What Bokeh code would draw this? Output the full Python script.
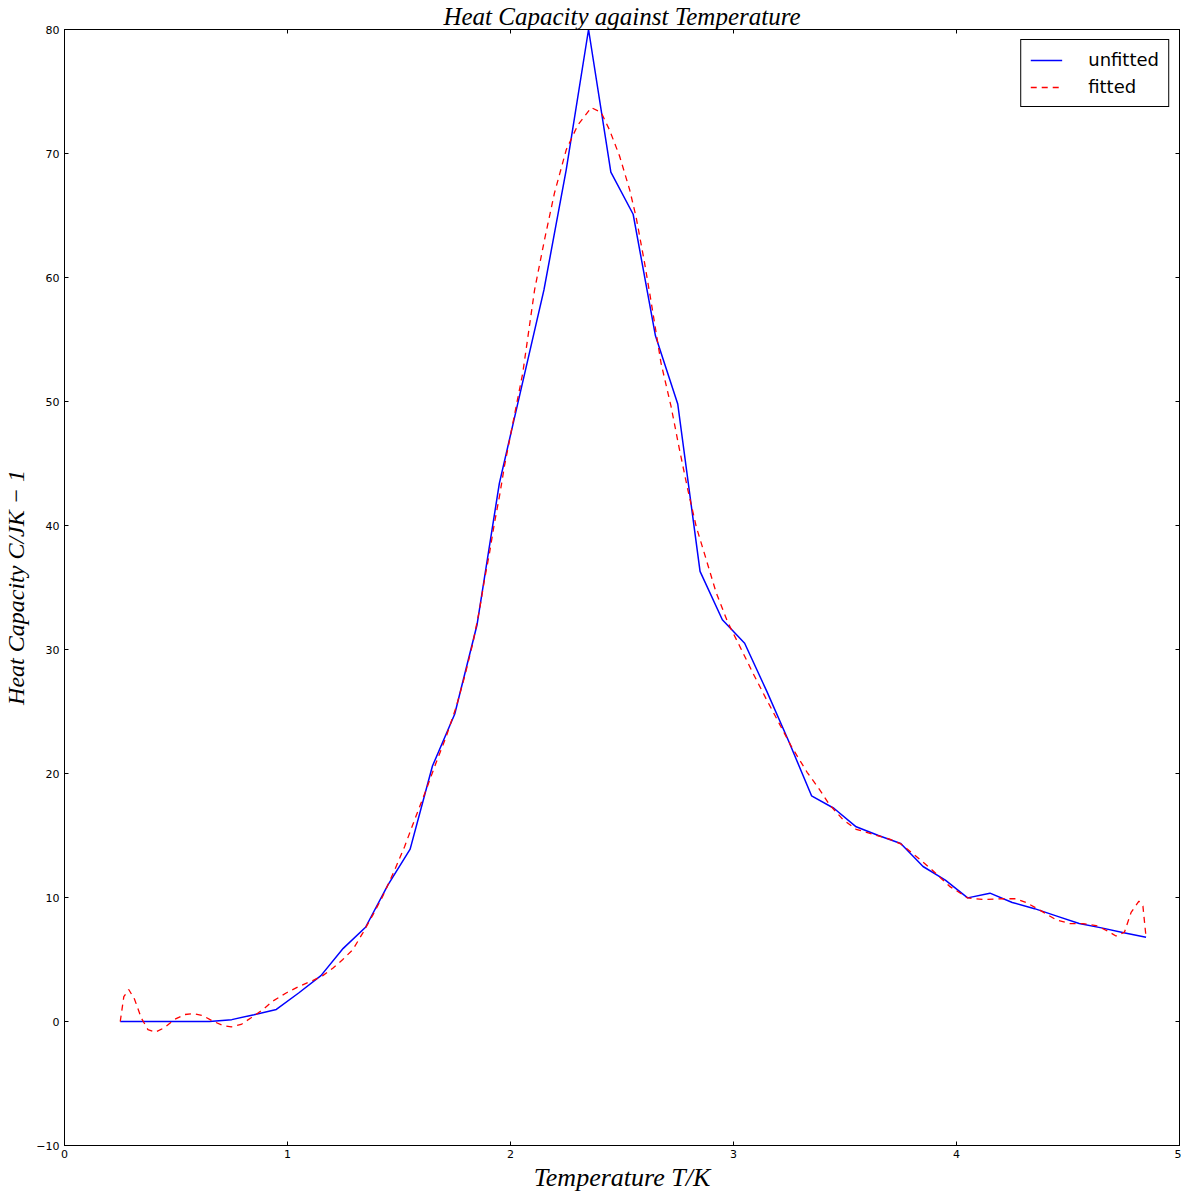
from bokeh.plotting import figure
from bokeh.models import FixedTicker, LinearAxis, Legend, LegendItem
from bokeh.embed import file_html
from bokeh.resources import INLINE

# Unfitted data
temps = [0.25, 0.35, 0.45, 0.55, 0.65, 0.75, 0.85, 0.95, 1.05, 1.15,
         1.25, 1.35, 1.45, 1.55, 1.65, 1.75, 1.85, 1.95, 2.05, 2.15,
         2.25, 2.35, 2.45, 2.55, 2.65, 2.75, 2.85, 2.95, 3.05, 3.15,
         3.25, 3.35, 3.45, 3.55, 3.65, 3.75, 3.85, 3.95, 4.05, 4.15,
         4.25, 4.35, 4.45, 4.55, 4.65, 4.75, 4.85]
heat_cap = [0.0, 0.0, 0.0, 0.0, 0.0, 0.15, 0.55, 0.97, 2.3, 3.7,
            5.9, 7.6, 11.0, 13.9, 20.6, 24.8, 32.0, 43.4, 51.2, 59.0,
            68.7, 80.0, 68.5, 65.1, 55.3, 49.8, 36.3, 32.4, 30.5, 26.6,
            22.5, 18.2, 17.2, 15.7, 15.0, 14.35, 12.5, 11.4, 9.97, 10.35,
            9.6, 9.1, 8.5, 7.9, 7.55, 7.15, 6.8]

# Fitted curve
fit_t = [0.25, 0.266, 0.288, 0.314, 0.344, 0.374, 0.408, 0.448, 0.493, 0.538,
         0.575, 0.62, 0.665, 0.71, 0.748, 0.792, 0.837, 0.89, 0.934, 0.994,
         1.054, 1.113, 1.158, 1.203, 1.248, 1.293, 1.338, 1.383, 1.427, 1.48,
         1.525, 1.577, 1.622, 1.667, 1.712, 1.757, 1.794, 1.831, 1.861, 1.883,
         1.906, 1.928, 1.951, 1.973, 2.01, 2.055, 2.108, 2.152, 2.197, 2.25,
         2.302, 2.362, 2.407, 2.444, 2.489, 2.534, 2.563, 2.601, 2.631, 2.675,
         2.72, 2.758, 2.795, 2.833, 2.877, 2.922, 2.974, 3.027, 3.087, 3.147,
         3.206, 3.259, 3.33, 3.386, 3.43, 3.49, 3.55, 3.625, 3.70, 3.752,
         3.82, 3.886, 3.969, 4.05, 4.118, 4.208, 4.267, 4.312, 4.372, 4.447,
         4.507, 4.566, 4.626, 4.678, 4.715, 4.753, 4.783, 4.818, 4.836, 4.85]
fit_c = [0.0, 2.0, 2.58, 1.8, 0.3, -0.65, -0.86, -0.5, 0.16, 0.56,
         0.64, 0.48, 0.03, -0.32, -0.43, -0.24, 0.3, 0.97, 1.64, 2.3,
         2.85, 3.3, 3.7, 4.3, 5.0, 5.8, 7.15, 8.6, 10.1, 12.2,
         14.1, 16.6, 18.7, 20.9, 23.0, 25.4, 27.8, 30.5, 33.2, 35.6,
         37.8, 40.2, 42.4, 44.8, 48.2, 52.3, 59.0, 63.0, 66.8, 70.3,
         72.3, 73.7, 73.3, 71.9, 69.8, 67.1, 64.9, 61.2, 58.0, 53.1,
         49.6, 46.1, 42.9, 39.9, 37.3, 34.6, 32.2, 30.3, 28.1, 26.0,
         24.0, 22.2, 20.1, 18.7, 17.5, 16.3, 15.5, 15.1, 14.7, 14.3,
         13.3, 12.3, 10.9, 9.97, 9.84, 9.9, 9.9, 9.6, 9.0, 8.2,
         7.9, 7.9, 7.74, 7.3, 6.9, 7.2, 8.8, 9.7, 9.3, 6.8]

x_ticks = [0, 1, 2, 3, 4, 5]
y_ticks = [-10, 0, 10, 20, 30, 40, 50, 60, 70, 80]

p = figure(frame_width=1115, frame_height=1116, x_range=(0, 5), y_range=(-10, 80),
           output_backend="svg", toolbar_location=None,
           min_border_left=57, min_border_top=24, min_border_right=2, min_border_bottom=44)

p.title.text = "Heat Capacity against Temperature"
p.title.align = "center"
p.title.text_font = "Liberation Serif"
p.title.text_font_style = "italic"
p.title.text_font_size = "25px"
p.title.text_color = "black"
p.title.standoff = 0
p.title.offset = 0

p.xgrid.visible = False
p.ygrid.visible = False
p.outline_line_color = "black"
p.outline_line_alpha = 1.0
p.outline_line_width = 1

for ax, ticks in ((p.xaxis[0], x_ticks), (p.yaxis[0], y_ticks)):
    ax.ticker = FixedTicker(ticks=ticks)
    ax.major_tick_in = 4
    ax.major_tick_out = 0
    ax.minor_tick_line_color = None
    ax.axis_line_color = "black"
    ax.major_tick_line_color = "black"
    ax.major_label_text_font = "DejaVu Sans"
    ax.major_label_text_font_size = "11px"
    ax.major_label_text_color = "black"
    ax.major_label_standoff = 5
    ax.axis_label_text_font = "Liberation Serif"
    ax.axis_label_text_font_style = "italic"
    ax.axis_label_text_color = "black"

p.xaxis[0].axis_label_text_font_size = "26px"
p.xaxis[0].axis_label_standoff = 2
p.xaxis[0].major_label_standoff = 4
p.yaxis[0].axis_label_text_font_size = "24px"
p.yaxis[0].axis_label_standoff = 4
p.yaxis[0].major_label_standoff = 5

p.yaxis[0].major_label_overrides = {-10: "\u221210"}
p.xaxis[0].axis_label = "Temperature T/K"
p.yaxis[0].axis_label = "Heat Capacity C/JK \u2212 1"

for side, ticks in (("above", x_ticks), ("right", y_ticks)):
    ax = LinearAxis(ticker=FixedTicker(ticks=ticks))
    ax.major_tick_in = 4
    ax.major_tick_out = 0
    ax.minor_tick_line_color = None
    ax.major_label_overrides = {t: "" for t in ticks}
    ax.major_label_text_font_size = "1px"
    ax.major_label_standoff = 0
    ax.axis_line_color = "black"
    p.add_layout(ax, side)

r1 = p.line(temps, heat_cap, line_color="#0000ff", line_width=1.5)
r2 = p.line(fit_t, fit_c, line_color="#ff0000", line_width=1.3, line_dash="6 5")

legend = Legend(items=[LegendItem(label="unfitted", renderers=[r1]),
                       LegendItem(label="fitted", renderers=[r2])],
                location="top_right")
legend.label_text_font = "DejaVu Sans"
legend.label_text_font_size = "18px"
legend.label_text_color = "black"
legend.border_line_color = "black"
legend.border_line_alpha = 1.0
legend.border_line_width = 1
legend.background_fill_alpha = 1.0
legend.glyph_width = 32
legend.label_standoff = 26
legend.padding = 9
legend.spacing = 6
legend.margin = 10
p.add_layout(legend)

open("out.html", "w").write(file_html(p, INLINE))
